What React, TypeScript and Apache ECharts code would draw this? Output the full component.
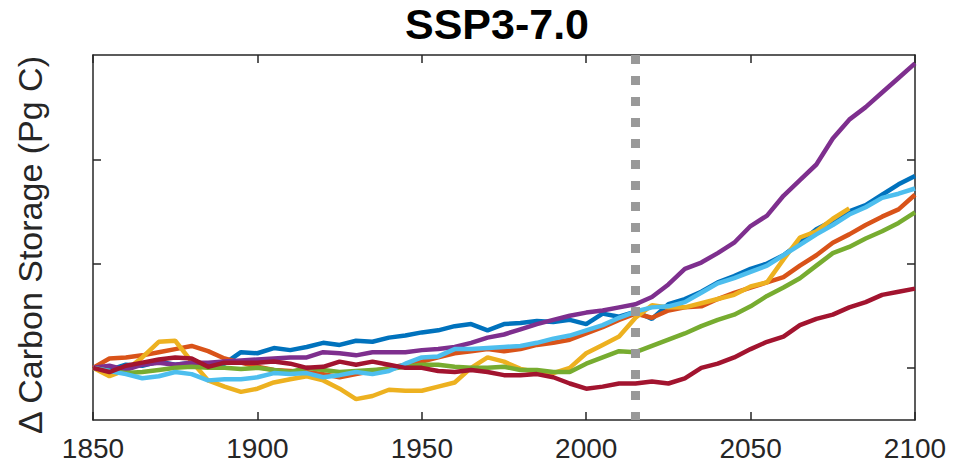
import React, { useEffect, useRef } from "react";
import * as echarts from "echarts";

const YEARS = [
  1850, 1855, 1860, 1865, 1870, 1875, 1880, 1885, 1890, 1895,
  1900, 1905, 1910, 1915, 1920, 1925, 1930, 1935, 1940, 1945,
  1950, 1955, 1960, 1965, 1970, 1975, 1980, 1985, 1990, 1995,
  2000, 2005, 2010, 2015, 2020, 2025, 2030, 2035, 2040, 2045,
  2050, 2055, 2060, 2065, 2070, 2075, 2080, 2085, 2090, 2095, 2100,
];

const X_TICKS = [1850, 1900, 1950, 2000, 2050, 2100];
const Y_TICKS = [0, 100, 200];
const SCENARIO_YEAR = 2015;

const BLUE = [
  0, -2, 3, 2, 6, 3, 5, 3, 4, 15,
  14, 19, 17, 20, 24, 22, 26, 25, 29, 31,
  34, 36, 40, 42, 36, 42, 43, 45, 44, 46,
  42, 52, 49, 54, 47, 61, 66, 73, 82, 88,
  95, 100, 108, 120, 133, 141, 150, 156, 166, 176, 184,
];
const ORANGE = [
  0, 9, 10, 12, 15, 18, 21, 16, 9, 5,
  1, -2, -3, -4, -6, -9, -6, -3, 0, 3,
  6, 10, 14, 16, 18, 16, 18, 22, 24, 27,
  33, 39, 46, 52, 48, 55, 58, 59, 66, 72,
  77, 82, 87, 98, 108, 120, 128, 137, 145, 152, 166,
];
const YELLOW = [
  0, -8, -2, 10, 25, 26, 6, -12, -18, -23,
  -20, -14, -11, -8, -12, -20, -30, -27, -21, -22,
  -22, -18, -14, 0, 10, 6, -1, -4, -5, 0,
  14, 22, 30, 48, 60, 58, 58, 62, 66, 70,
  78, 82, 104, 125, 131, 143, 153,
];
const PURPLE = [
  0, 2, -2, 3, 5, 3, 5, 5, 6, 7,
  8, 9, 10, 10, 15, 14, 12, 15, 15, 15,
  17, 18, 20, 24, 29, 32, 37, 42, 46, 50,
  53, 55, 58, 61, 68, 80, 95, 101, 110, 120,
  136, 146, 165, 180, 195, 220, 238, 250, 264, 278, 292,
];
const GREEN = [
  0, -3, -5, -4, -2, 0, 1, 0, 0, -1,
  0, -2, -4, 0, -2, -4, -3, -2, -1, 1,
  3, 3, 1, 0, 0, 1, -2, -2, -4, -4,
  4, 10, 16, 15, 21, 27, 33, 40, 46, 51,
  59, 69, 77, 86, 98, 110, 116, 124, 131, 139, 149,
];
const LIGHT_BLUE = [
  0, -3, -6, -10, -8, -4, -6, -12, -11, -11,
  -9, -5, -6, -5, -9, -7, -4, -6, -3, 4,
  10, 11, 18, 18, 19, 20, 21, 24, 28, 31,
  36, 41, 48, 54, 58, 59, 63, 72, 81, 86,
  92, 98, 108, 118, 128, 137, 147, 154, 163, 167, 172,
];
const DARK_RED = [
  0, -4, 2, 5, 8, 10, 9, 1, 5, 5,
  5, 6, 4, 0, 1, 6, 3, 6, 3, 0,
  0, -3, -4, -2, -4, -7, -7, -6, -9, -15,
  -20, -18, -15, -15, -13, -15, -10, 0, 4, 10,
  18, 25, 30, 41, 47, 51, 58, 63, 70, 73, 76,
];

const SERIES = [
  { name: "Model 1", color: "#0072BD", values: BLUE },
  { name: "Model 2", color: "#D95319", values: ORANGE },
  { name: "Model 3", color: "#EDB120", values: YELLOW },
  { name: "Model 4", color: "#7E2F8E", values: PURPLE },
  { name: "Model 5", color: "#77AC30", values: GREEN },
  { name: "Model 6", color: "#4DBEEE", values: LIGHT_BLUE },
  { name: "Model 7", color: "#A2142F", values: DARK_RED },
];

const FONT = "'Liberation Sans', Arial, Helvetica, sans-serif";
const AXIS_COLOR = "#262626";

export default function App() {
  const ref = useRef<HTMLDivElement>(null);

  useEffect(() => {
    document.body.style.margin = "0";
    if (!ref.current) return;
    const chart = echarts.init(ref.current, undefined, { renderer: "svg" });

    const axisLine = { show: true, onZero: false, lineStyle: { color: AXIS_COLOR, width: 1.5 } };
    const tickStyle = { color: AXIS_COLOR, width: 1.5 };

    const lineSeries = SERIES.map((s, i) => ({
      name: s.name,
      type: "line",
      data: s.values.map((v, k) => [YEARS[k], v]),
      symbol: "none",
      showSymbol: false,
      lineStyle: { color: s.color, width: 4.5 },
      itemStyle: { color: s.color },
      z: 2 + i,
      clip: true,
    }));

    chart.setOption({
      animation: false,
      backgroundColor: "#ffffff",
      grid: { left: 93, right: 40, top: 55, bottom: 51, containLabel: false },
      xAxis: [
        {
          type: "value",
          position: "bottom",
          min: X_TICKS[0],
          max: X_TICKS[X_TICKS.length - 1],
          interval: 50,
          axisLine,
          axisTick: { show: true, inside: true, length: 8, lineStyle: tickStyle },
          axisLabel: {
            show: true,
            fontSize: 28,
            color: AXIS_COLOR,
            fontFamily: FONT,
            margin: 14,
            formatter: (v: number) => String(v),
          },
          splitLine: { show: false },
        },
        {
          type: "value",
          position: "top",
          min: X_TICKS[0],
          max: X_TICKS[X_TICKS.length - 1],
          interval: 50,
          axisLine,
          axisTick: { show: true, inside: true, length: 8, lineStyle: tickStyle },
          axisLabel: { show: false },
          splitLine: { show: false },
        },
      ],
      yAxis: [
        {
          type: "value",
          position: "left",
          min: -50,
          max: 300,
          interval: 50,
          axisLine,
          axisTick: {
            show: true,
            inside: true,
            length: 8,
            lineStyle: tickStyle,
            customValues: Y_TICKS,
          },
          axisLabel: { show: false },
          splitLine: { show: false },
        },
        {
          type: "value",
          position: "right",
          min: -50,
          max: 300,
          interval: 50,
          axisLine,
          axisTick: {
            show: true,
            inside: true,
            length: 8,
            lineStyle: tickStyle,
            customValues: Y_TICKS,
          },
          axisLabel: { show: false },
          splitLine: { show: false },
        },
      ],
      graphic: [
        {
          type: "text",
          x: 497,
          y: 24,
          style: {
            text: "SSP3-7.0",
            font: `bold 43px ${FONT}`,
            fill: "#000000",
            textAlign: "center",
            textVerticalAlign: "middle",
          },
        },
        {
          type: "text",
          x: 30,
          y: 245,
          rotation: Math.PI / 2,
          style: {
            text: "Δ Carbon Storage (Pg C)",
            font: `34px ${FONT}`,
            fill: AXIS_COLOR,
            textAlign: "center",
            textVerticalAlign: "middle",
          },
        },
      ],
      series: [
        ...lineSeries,
        {
          name: "Scenario start",
          type: "line",
          data: [
            [SCENARIO_YEAR, 300],
            [SCENARIO_YEAR, -50],
          ],
          symbol: "none",
          lineStyle: { color: "#999999", width: 9, type: [9, 12] },
          z: 20,
          clip: true,
        },
      ],
    });

    return () => chart.dispose();
  }, []);

  return <div ref={ref} style={{ width: 955, height: 471 }} />;
}
